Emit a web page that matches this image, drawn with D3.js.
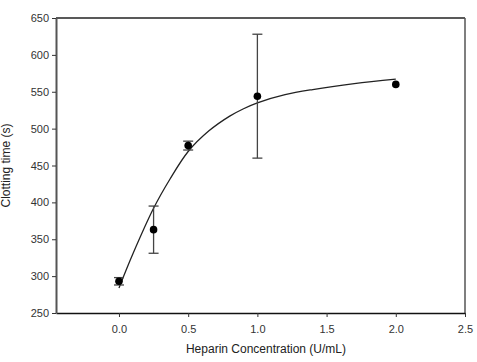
<!DOCTYPE html>
<html>
<head>
<meta charset="utf-8">
<script src="https://cdn.jsdelivr.net/npm/d3@7"></script>
<style>
  body { margin: 0; background: #fff; }
  text { font-family: "Liberation Sans", Arial, sans-serif; fill: #222; }
</style>
</head>
<body>
<div id="chart"></div>
<script>
// measured points
const conc = [0, 0.25, 0.5, 1.0, 2.0];
const clotTime = [293, 363, 477, 544, 560];
const clotErr = [5, 32, 6, 84, 0];

// fitted curve
const fitX = [0, 0.1, 0.25, 0.37, 0.5, 0.65, 0.8, 0.9, 1.0, 1.2, 1.4, 1.7, 2.0];
const fitY = [284, 330, 392, 432, 469, 497, 517, 527, 535, 546, 553, 561, 567];

const xTicks = [0, 0.5, 1.0, 1.5, 2.0, 2.5];
const yTicks = [250, 300, 350, 400, 450, 500, 550, 600, 650];

let margin = {top: 18, right: 12, bottom: 49, left: 56},
    width = 477 - margin.left - margin.right,
    height = 362 - margin.top - margin.bottom;

const svg = d3.select("#chart")
    .append("svg")
    .attr("width", 477)
    .attr("height", 362)
    .append("g")
    .attr("transform", `translate(${margin.left}, ${margin.top})`);

const x = d3.scaleLinear().domain([-0.455, 2.5]).range([0, width]);
const y = d3.scaleLinear().domain([250, 650]).range([height, 0]);

/* frame: top and right lines */
svg.append("line")
    .attr("x1", 0).attr("x2", width).attr("y1", 0).attr("y2", 0)
    .attr("stroke", "#222").attr("stroke-width", 1.5);
svg.append("line")
    .attr("x1", width).attr("x2", width).attr("y1", 0).attr("y2", height)
    .attr("stroke", "#555").attr("stroke-width", 1.5);

/* X-axis */
const xAxis = svg.append("g")
    .attr("transform", `translate(0, ${height})`)
    .call(d3.axisBottom(x).tickValues(xTicks).tickFormat(d3.format(".1f")).tickSize(4).tickSizeOuter(0));
xAxis.select(".domain").attr("stroke", "#111").attr("stroke-width", 1.3);
xAxis.selectAll(".tick line").attr("stroke", "#333");
xAxis.selectAll("text").attr("font-size", 11).attr("dy", "1.2em").style("fill", "#333");

svg.append("text")
    .attr("text-anchor", "middle")
    .attr("x", 210)
    .attr("y", height + 40)
    .attr("font-size", 12)
    .text("Heparin Concentration (U/mL)");

/* Y-axis */
const yAxis = svg.append("g")
    .call(d3.axisLeft(y).tickValues(yTicks).tickSize(4).tickSizeOuter(0));
yAxis.select(".domain").attr("stroke", "#555").attr("stroke-width", 2);
yAxis.selectAll(".tick line").attr("stroke", "#333");
yAxis.selectAll("text").attr("font-size", 11).attr("x", -7).style("fill", "#333");

svg.append("text")
    .attr("text-anchor", "middle")
    .attr("transform", "rotate(-90)")
    .attr("x", -height / 2)
    .attr("y", -46)
    .attr("font-size", 12)
    .text("Clotting time (s)");

/* fitted curve */
const fit = fitX.map((d, i) => ({x: d, y: fitY[i]}));
svg.append("path")
    .datum(fit)
    .attr("fill", "none")
    .attr("stroke", "#222")
    .attr("stroke-width", 1.3)
    .attr("d", d3.line().x(d => x(d.x)).y(d => y(d.y)).curve(d3.curveCatmullRom.alpha(0.5)));

/* error bars */
const pts = conc.map((d, i) => ({x: d, y: clotTime[i], e: clotErr[i]}));
const bars = svg.selectAll("g.err")
    .data(pts.filter(d => d.e > 0))
    .enter()
    .append("g")
    .attr("class", "err")
    .attr("stroke", "#444")
    .attr("stroke-width", 1.3);
bars.append("line")
    .attr("x1", d => x(d.x)).attr("x2", d => x(d.x))
    .attr("y1", d => y(d.y - d.e)).attr("y2", d => y(d.y + d.e));
bars.append("line")
    .attr("x1", d => x(d.x) - 5).attr("x2", d => x(d.x) + 5)
    .attr("y1", d => y(d.y - d.e)).attr("y2", d => y(d.y - d.e));
bars.append("line")
    .attr("x1", d => x(d.x) - 5).attr("x2", d => x(d.x) + 5)
    .attr("y1", d => y(d.y + d.e)).attr("y2", d => y(d.y + d.e));

/* points */
svg.selectAll("circle.pt")
    .data(pts)
    .enter()
    .append("circle")
    .attr("class", "pt")
    .attr("cx", d => x(d.x))
    .attr("cy", d => y(d.y))
    .attr("r", 3.8)
    .attr("fill", "#000");
</script>
</body>
</html>
